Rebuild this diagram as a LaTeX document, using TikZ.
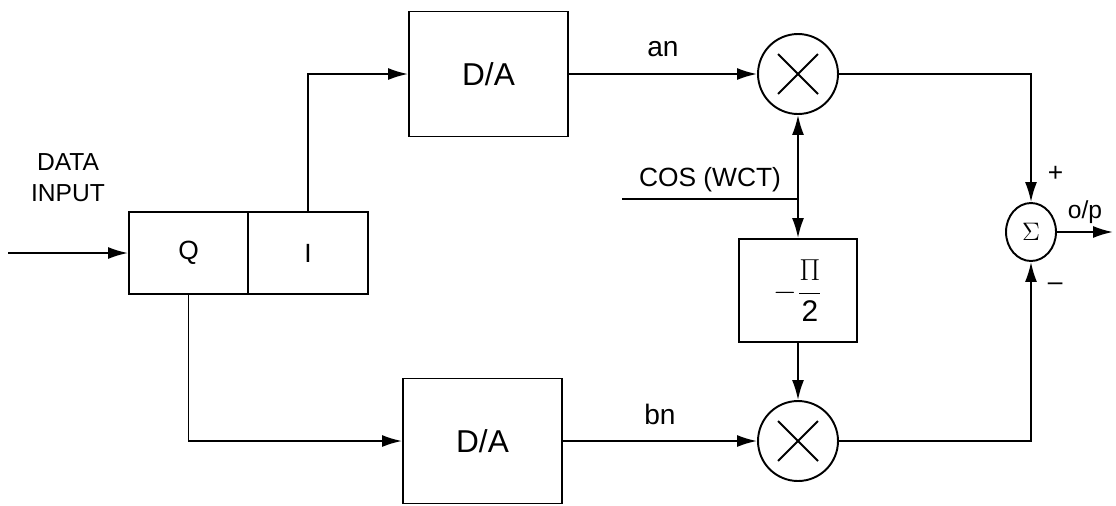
\documentclass[tikz,border=0pt]{standalone}
\usepackage{fontspec}
\setmainfont{Liberation Sans}
\usetikzlibrary{arrows.meta,shapes.geometric}
\tikzset{
  >={Latex[length=4mm,width=2.4mm]},
  block/.style={draw},
  mult/.style={draw, circle, minimum size=1.6cm, inner sep=0pt,
    path picture={
      \draw ([shift={(-0.4cm,-0.4cm)}]path picture bounding box.center) -- ([shift={(0.4cm,0.4cm)}]path picture bounding box.center);
      \draw ([shift={(-0.4cm,0.4cm)}]path picture bounding box.center) -- ([shift={(0.4cm,-0.4cm)}]path picture bounding box.center);
    }},
  summer/.style={draw, ellipse, minimum width=1cm, minimum height=1.16cm, inner sep=0pt},
}
\begin{document}
\begin{tikzpicture}[x=0.02cm, y=-0.02cm, line width=1.1pt]
\useasboundingbox (0,0) rectangle (1116,505);
% blocks
\node[block, minimum width=2.38cm, minimum height=1.64cm, font=\fontsize{15}{18}\selectfont] (q) at (188.5,253) {Q};
\node[block, minimum width=2.4cm, minimum height=1.64cm, font=\fontsize{15}{18}\selectfont] (i) at (308,253) {I};
\node[block, minimum width=3.18cm, minimum height=2.5cm, font=\fontsize{18}{22}\selectfont] (da1) at (488.5,74) {D/A};
\node[block, minimum width=3.18cm, minimum height=2.5cm, font=\fontsize{18}{22}\selectfont] (da2) at (482.5,441) {D/A};
\node[mult] (m1) at (798,74) {};
\node[mult] (m2) at (798,441) {};
\node[block, minimum width=2.36cm, minimum height=2.06cm, font=\fontsize{17}{20}\selectfont] (shift) at (798,290.5) {$\displaystyle -\frac{\Pi}{\hbox{2}}$};
\node[summer, font=\fontsize{14}{16}\selectfont] (sum) at (1031,232) {$\Sigma$};
\node[align=center, font=\fontsize{14}{17.6}\selectfont] (datain) at (68,178) {DATA\\INPUT};
% free ends
\coordinate (in) at (8,253);
\coordinate (out) at (1113,232);
\coordinate (cosin) at (622,199);
% connectors
\draw[->] (in) -- (q.west);
\draw[->] (i.north) |- (da1.west);
\draw[->] (q.south) |- (da2.west);
\draw[->] (da1.east) -- node[midway, above=0.2cm, font=\fontsize{16}{19}\selectfont] (an) {an} (m1.west);
\draw[->] (da2.east) -- node[midway, above=0.18cm, font=\fontsize{16}{19}\selectfont] (bn) {bn} (m2.west);
\draw[<->] (m1.south) -- (shift.north);
\draw (cosin) -- node[above, font=\fontsize{15}{18}\selectfont] (cos) {COS (WCT)} (cosin -| m1.south);
\draw[->] (shift.south) -- (m2.north);
\draw[->] (m1.east) -| node[pos=0.89, right=0.2cm, font=\fontsize{15}{18}\selectfont] (plus) {+} (sum.north);
\draw[->] (m2.east) -| node[pos=0.93, right=0.2cm, font=\fontsize{15}{18}\selectfont] (minus) {--} (sum.south);
\draw[->] (sum.east) -- node[midway, above=0.04cm, font=\fontsize{14}{17}\selectfont] (op) {o/p} (out);
\end{tikzpicture}
\end{document}
